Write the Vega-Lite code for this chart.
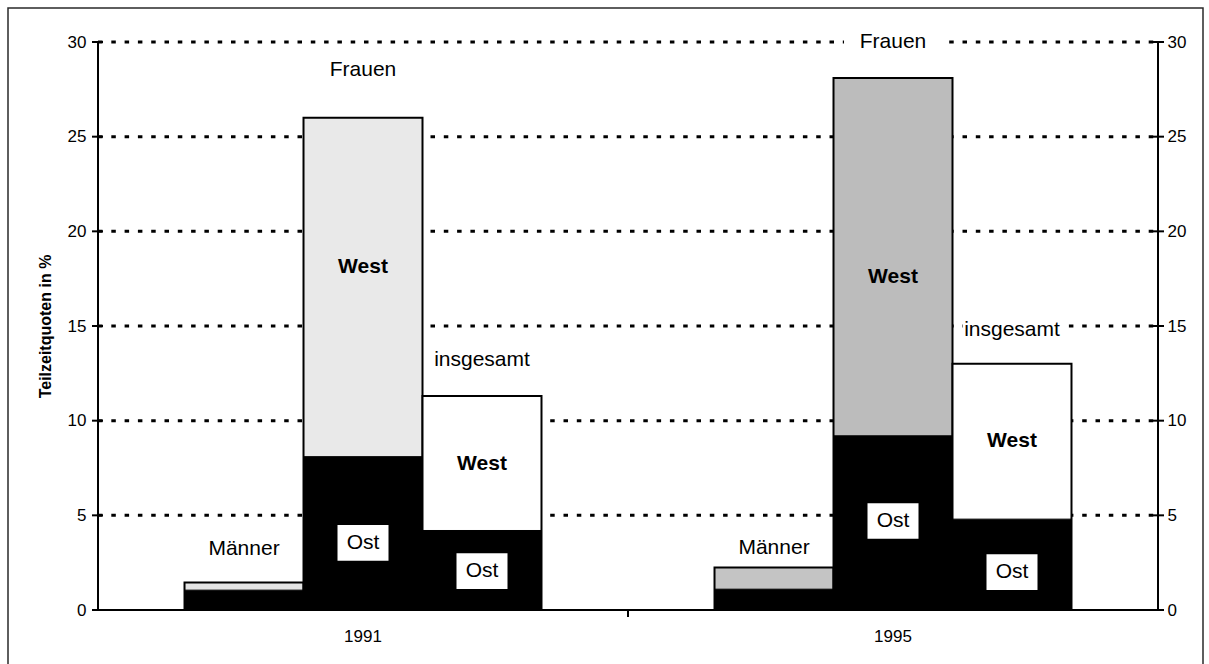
{
  "$schema": "https://vega.github.io/schema/vega-lite/v6.json",
  "width": 1195,
  "height": 660,
  "autosize": {"type": "none"},
  "padding": {"left": 8, "top": 8, "right": 6, "bottom": 0},
  "background": "white",
  "config": {
    "view": {"stroke": "#2a2a2a", "strokeWidth": 1.5},
    "font": "Liberation Sans",
    "axis": {"labelColor": "black", "tickColor": "black", "labelFont": "Liberation Sans", "titleFont": "Liberation Sans", "titleColor": "black"}
  },
  "datasets": {
    "bars": [
      {"year": "1991", "group": "Männer", "region": "West", "value": 1.45},
      {"year": "1991", "group": "Männer", "region": "Ost", "value": 1.05},
      {"year": "1991", "group": "Frauen", "region": "West", "value": 26.0},
      {"year": "1991", "group": "Frauen", "region": "Ost", "value": 8.1},
      {"year": "1991", "group": "insgesamt", "region": "West", "value": 11.3},
      {"year": "1991", "group": "insgesamt", "region": "Ost", "value": 4.2},
      {"year": "1995", "group": "Männer", "region": "West", "value": 2.25},
      {"year": "1995", "group": "Männer", "region": "Ost", "value": 1.1},
      {"year": "1995", "group": "Frauen", "region": "West", "value": 28.1},
      {"year": "1995", "group": "Frauen", "region": "Ost", "value": 9.2},
      {"year": "1995", "group": "insgesamt", "region": "West", "value": 13.0},
      {"year": "1995", "group": "insgesamt", "region": "Ost", "value": 4.8}
    ],
    "grid": [{"v": 5}, {"v": 10}, {"v": 15}, {"v": 20}, {"v": 25}, {"v": 30}],
    "ticks": [{"t": 0}, {"t": 5}, {"t": 10}, {"t": 15}, {"t": 20}, {"t": 25}, {"t": 30}],
    "years": [{"year": "1991"}, {"year": "1995"}],
    "labels": [
      {"year": "1991", "group": "Männer", "text": "Männer", "pos": 3.2, "style": "plain"},
      {"year": "1991", "group": "Frauen", "text": "Frauen", "pos": 28.5, "style": "plain"},
      {"year": "1991", "group": "Frauen", "text": "West", "pos": 18.1, "style": "bold"},
      {"year": "1991", "group": "Frauen", "text": "Ost", "pos": 3.55, "style": "boxed"},
      {"year": "1991", "group": "insgesamt", "text": "insgesamt", "pos": 13.2, "style": "plain"},
      {"year": "1991", "group": "insgesamt", "text": "West", "pos": 7.7, "style": "bold"},
      {"year": "1991", "group": "insgesamt", "text": "Ost", "pos": 2.05, "style": "boxed"},
      {"year": "1995", "group": "Männer", "text": "Männer", "pos": 3.3, "style": "plain"},
      {"year": "1995", "group": "Frauen", "text": "Frauen", "pos": 30.0, "style": "gap"},
      {"year": "1995", "group": "Frauen", "text": "West", "pos": 17.6, "style": "bold"},
      {"year": "1995", "group": "Frauen", "text": "Ost", "pos": 4.7, "style": "boxed"},
      {"year": "1995", "group": "insgesamt", "text": "insgesamt", "pos": 14.8, "style": "gap"},
      {"year": "1995", "group": "insgesamt", "text": "West", "pos": 8.9, "style": "bold"},
      {"year": "1995", "group": "insgesamt", "text": "Ost", "pos": 2.0, "style": "boxed"}
    ]
  },
  "resolve": {"axis": {"y": "independent"}},
  "layer": [
    {
      "data": {"name": "grid"},
      "mark": {"type": "rule", "color": "black", "strokeWidth": 3, "strokeDash": [4.5, 8.8]},
      "encoding": {
        "y": {"field": "v", "type": "quantitative",
          "scale": {"domain": [-3.063, 31.796], "nice": false, "zero": false},
          "axis": {"orient": "left", "offset": -90, "values": [0, 5, 10, 15, 20, 25, 30], "domain": false, "grid": false,
            "ticks": false, "labelPadding": 12, "labelFontSize": 17,
            "title": "Teilzeitquoten in %", "titleFontSize": 16, "titleFontWeight": "bold", "titlePadding": 14, "titleY": 318}},
        "x": {"datum": "1991", "type": "nominal", "bandPosition": 0,
          "scale": {"domain": ["1991", "1995"], "paddingInner": 0, "paddingOuter": 0.12736, "align": 0.6667}, "axis": null},
        "x2": {"datum": "1995", "bandPosition": 1}
      }
    },
    {
      "data": {"name": "bars"},
      "transform": [{"filter": "datum.region === 'West'"}],
      "mark": {"type": "bar", "stroke": "black", "strokeWidth": 2},
      "encoding": {
        "x": {"field": "year", "type": "nominal", "axis": null},
        "xOffset": {"field": "group", "type": "nominal",
          "scale": {"domain": ["Männer", "Frauen", "insgesamt"], "paddingInner": 0, "paddingOuter": 0.727}},
        "y": {"field": "value", "type": "quantitative", "axis": null},
        "y2": {"datum": 0},
        "color": {
          "condition": [
            {"test": "datum.year === '1991' && datum.group === 'Frauen'", "value": "#e9e9e9"},
            {"test": "datum.year === '1995' && datum.group === 'Frauen'", "value": "#bcbcbc"},
            {"test": "datum.year === '1991' && datum.group === 'Männer'", "value": "#e4e4e4"},
            {"test": "datum.year === '1995' && datum.group === 'Männer'", "value": "#c4c4c4"}
          ],
          "value": "white"
        }
      }
    },
    {
      "data": {"name": "bars"},
      "transform": [{"filter": "datum.region === 'Ost'"}],
      "mark": {"type": "bar", "color": "black", "stroke": "black", "strokeWidth": 1},
      "encoding": {
        "x": {"field": "year", "type": "nominal", "axis": null},
        "xOffset": {"field": "group", "type": "nominal"},
        "y": {"field": "value", "type": "quantitative",
          "axis": {"orient": "right", "offset": -45, "values": [0, 5, 10, 15, 20, 25, 30], "domain": false, "grid": false,
            "ticks": false, "labelPadding": 9, "labelFontSize": 17, "title": null}},
        "y2": {"datum": 0}
      }
    },
    {
      "data": {"values": [{}]},
      "mark": {"type": "rule", "color": "black", "strokeWidth": 2},
      "encoding": {
        "x": {"datum": "1991", "type": "nominal", "bandPosition": 0, "axis": null},
        "y": {"datum": 0, "type": "quantitative", "axis": null},
        "y2": {"datum": 30}
      }
    },
    {
      "data": {"values": [{}]},
      "mark": {"type": "rule", "color": "black", "strokeWidth": 2},
      "encoding": {
        "x": {"datum": "1995", "type": "nominal", "bandPosition": 1, "axis": null},
        "y": {"datum": 0, "type": "quantitative", "axis": null},
        "y2": {"datum": 30}
      }
    },
    {
      "data": {"values": [{}]},
      "mark": {"type": "rule", "color": "black", "strokeWidth": 2},
      "encoding": {
        "x": {"datum": "1991", "type": "nominal", "bandPosition": 0, "axis": null},
        "x2": {"datum": "1995", "bandPosition": 1},
        "y": {"datum": 0, "type": "quantitative", "axis": null}
      }
    },
    {
      "data": {"name": "ticks"},
      "mark": {"type": "rule", "color": "black", "strokeWidth": 2, "xOffset": -6, "x2Offset": 5},
      "encoding": {
        "x": {"datum": "1991", "type": "nominal", "bandPosition": 0, "axis": null},
        "x2": {"datum": "1991", "bandPosition": 0},
        "y": {"field": "t", "type": "quantitative", "axis": null}
      }
    },
    {
      "data": {"name": "ticks"},
      "mark": {"type": "rule", "color": "black", "strokeWidth": 2, "xOffset": -5, "x2Offset": 6},
      "encoding": {
        "x": {"datum": "1995", "type": "nominal", "bandPosition": 1, "axis": null},
        "x2": {"datum": "1995", "bandPosition": 1},
        "y": {"field": "t", "type": "quantitative", "axis": null}
      }
    },
    {
      "data": {"values": [{}]},
      "mark": {"type": "rule", "color": "black", "strokeWidth": 2, "y2Offset": 7},
      "encoding": {
        "x": {"datum": "1995", "type": "nominal", "bandPosition": 0, "axis": null},
        "y": {"datum": 0, "type": "quantitative", "axis": null},
        "y2": {"datum": 0}
      }
    },
    {
      "data": {"name": "years"},
      "mark": {"type": "text", "fontSize": 17, "color": "black", "align": "center", "baseline": "middle"},
      "encoding": {
        "x": {"field": "year", "type": "nominal", "axis": null},
        "y": {"datum": -1.45, "type": "quantitative", "axis": null},
        "text": {"field": "year"}
      }
    },
    {
      "data": {"name": "labels"},
      "transform": [{"filter": "datum.style === 'boxed'"}],
      "mark": {"type": "point", "filled": true, "color": "white", "opacity": 1, "shape": "M-1,-0.7H1V0.7H-1Z", "size": 2601},
      "encoding": {
        "x": {"field": "year", "type": "nominal", "axis": null},
        "xOffset": {"field": "group", "type": "nominal"},
        "y": {"field": "pos", "type": "quantitative", "axis": null}
      }
    },
    {
      "data": {"name": "labels"},
      "transform": [{"filter": "datum.style === 'gap'"}],
      "mark": {"type": "point", "filled": true, "color": "white", "opacity": 1, "shape": "M-1,-0.12H1V0.12H-1Z", "size": 9600},
      "encoding": {
        "x": {"field": "year", "type": "nominal", "axis": null},
        "xOffset": {"field": "group", "type": "nominal"},
        "y": {"field": "pos", "type": "quantitative", "axis": null}
      }
    },
    {
      "data": {"name": "labels"},
      "transform": [{"filter": "datum.style === 'plain' || datum.style === 'gap'"}],
      "mark": {"type": "text", "fontSize": 21, "color": "black", "align": "center", "baseline": "middle"},
      "encoding": {
        "x": {"field": "year", "type": "nominal", "axis": null},
        "xOffset": {"field": "group", "type": "nominal"},
        "y": {"field": "pos", "type": "quantitative", "axis": null},
        "text": {"field": "text"}
      }
    },
    {
      "data": {"name": "labels"},
      "transform": [{"filter": "datum.style === 'bold'"}],
      "mark": {"type": "text", "fontSize": 21, "fontWeight": "bold", "color": "black", "align": "center", "baseline": "middle"},
      "encoding": {
        "x": {"field": "year", "type": "nominal", "axis": null},
        "xOffset": {"field": "group", "type": "nominal"},
        "y": {"field": "pos", "type": "quantitative", "axis": null},
        "text": {"field": "text"}
      }
    },
    {
      "data": {"name": "labels"},
      "transform": [{"filter": "datum.style === 'boxed'"}],
      "mark": {"type": "text", "fontSize": 21, "color": "black", "align": "center", "baseline": "middle"},
      "encoding": {
        "x": {"field": "year", "type": "nominal", "axis": null},
        "xOffset": {"field": "group", "type": "nominal"},
        "y": {"field": "pos", "type": "quantitative", "axis": null},
        "text": {"field": "text"}
      }
    }
  ]
}
